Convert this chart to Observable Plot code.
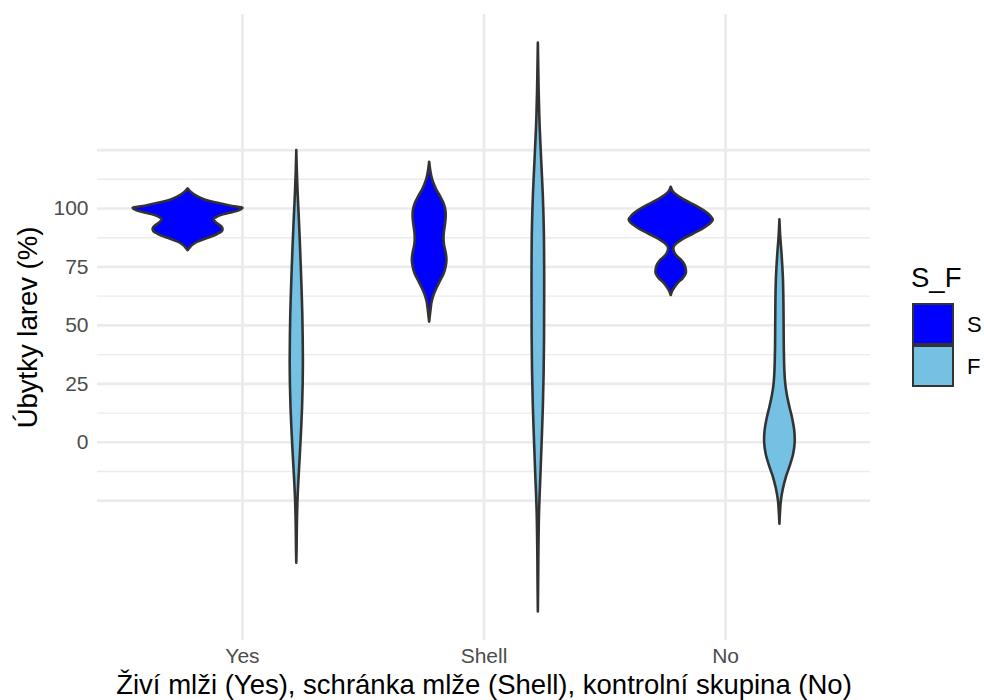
<!DOCTYPE html>
<html>
<head>
<meta charset="utf-8">
<script src="https://cdn.jsdelivr.net/npm/d3@7"></script>
<script src="https://cdn.jsdelivr.net/npm/@observablehq/plot@0.6"></script>
<style>
  body { margin: 0; background: #fff; font-family: "Liberation Sans", Arial, sans-serif; }
  #wrap { position: relative; width: 984px; height: 700px; overflow: hidden; }
  .lg { position: absolute; line-height: 1; color: #000; }
  .key { position: absolute; box-sizing: border-box; border: 2.7px solid #333333; }
</style>
</head>
<body>
<div id="wrap"></div>
<script>
// ---- data ----
const categories = ["Yes", "Shell", "No"];
const groups = ["S", "F"];
const fillColors = ["#0000FF", "#74C1E4"];
const yTicks = [0, 25, 50, 75, 100];
const gridValues = [-25, -12.5, 0, 12.5, 25, 37.5, 50, 62.5, 75, 87.5, 100, 112.5, 125];

// violin profiles: value (y) and half-width (estimated, px-like density units)
const yesS_y = [82, 83, 84, 85, 86, 87, 88, 89, 90, 91, 92, 93, 94, 95.3, 96, 97, 98, 99, 100, 100.5, 101, 102, 103, 104, 105, 106, 107, 108.4];
const yesS_w = [0, 2, 4, 7, 12, 18, 25, 30, 34, 35, 34, 31, 28, 26, 28, 33, 42, 51, 55, 50, 43, 32, 22, 15, 10, 6, 3, 0];
const yesF_y = [-51.7, -45, -35, -25, -15, -5, 5, 15, 25, 35, 45, 55, 65, 75, 85, 95, 105, 115, 124.8];
const yesF_w = [0, 0.3, 0.6, 1.2, 2.3, 3.6, 4.8, 5.8, 6.4, 6.6, 6.4, 6, 5.3, 4.5, 3.6, 2.6, 1.5, 0.6, 0];
const shellS_y = [51.4, 54, 57, 60, 63, 66, 69, 72, 75, 78, 81, 84, 87, 90, 93, 96, 99, 102, 105, 108, 111, 114, 117, 119.8];
const shellS_w = [0, 0.7, 1.5, 2.5, 4.5, 7.5, 11, 14.5, 16.5, 17.3, 16.5, 15, 14.4, 14.8, 15.8, 16.5, 16.3, 14.5, 11, 7, 4, 2, 0.8, 0];
const shellF_y = [-72.6, -60, -45, -30, -15, 0, 15, 30, 45, 60, 75, 90, 105, 120, 135, 150, 160, 170.8];
const shellF_w = [0, 0.3, 0.6, 1.2, 2.5, 3.8, 5, 5.8, 6.2, 6.3, 6.3, 6, 5, 3.4, 1.8, 0.8, 0.4, 0];
const noS_y = [62.8, 64.5, 66, 68, 70, 72, 74, 76, 78, 80, 82, 83.5, 85, 87, 89, 91, 93, 95, 97, 99, 101, 103, 105, 106.5, 107.5, 109.1];
const noS_w = [0, 1.5, 3.5, 7, 12, 15, 15, 13.5, 10, 5, 2.8, 3, 6, 13, 22, 31, 38, 42, 39, 33, 25, 16, 8, 3.5, 1.5, 0];
const noF_y = [-35, -30, -25, -20, -15, -10, -5, 0, 5, 10, 15, 20, 25, 30, 40, 50, 60, 70, 80, 88, 95.2];
const noF_w = [0, 0.6, 1.5, 3.5, 6.5, 10.5, 13.8, 15.3, 14.8, 12.8, 10, 7.5, 5.8, 5, 4.4, 4.2, 4, 3.5, 2.2, 0.8, 0];

const xTitle = "Živí mlži (Yes), schránka mlže (Shell), kontrolní skupina (No)";
const yTitle = "Úbytky larev (%)";
const legendTitle = "S_F";

// ---- build table ----
const violins = [
  {cat: "Yes", group: "S", ys: yesS_y, ws: yesS_w},
  {cat: "Yes", group: "F", ys: yesF_y, ws: yesF_w},
  {cat: "Shell", group: "S", ys: shellS_y, ws: shellS_w},
  {cat: "Shell", group: "F", ys: shellF_y, ws: shellF_w},
  {cat: "No", group: "S", ys: noS_y, ws: noS_w},
  {cat: "No", group: "F", ys: noF_y, ws: noF_w}
];
const dodge = 0.225;
const widthScale = 1 / 241.6;
const rows = [];
violins.forEach((v, k) => {
  const center = categories.indexOf(v.cat) + 1 + (v.group === "S" ? -dodge : dodge);
  v.ys.forEach((y, i) => rows.push({id: k, group: v.group, y, x1: center - v.ws[i] * widthScale, x2: center + v.ws[i] * widthScale}));
});

const chart = Plot.plot({
  width: 984,
  height: 700,
  marginTop: 14,
  marginBottom: 60,
  marginLeft: 97,
  marginRight: 114,
  style: {fontFamily: "Liberation Sans, Arial, sans-serif", background: "#fff"},
  x: {domain: [0.4, 3.6], axis: null},
  y: {domain: [-84.8, 183], axis: null},
  color: {domain: groups, range: fillColors},
  marks: [
    Plot.ruleY(gridValues.filter(d => d % 25 !== 0), {stroke: "#ebebeb", strokeWidth: 1.35}),
    Plot.ruleY(gridValues.filter(d => d % 25 === 0), {stroke: "#ebebeb", strokeWidth: 2.7}),
    Plot.ruleX([1, 2, 3], {stroke: "#ebebeb", strokeWidth: 2.7}),
    Plot.areaX(rows, {y: "y", x1: "x1", x2: "x2", z: "id", fill: "group", stroke: "#333333", strokeWidth: 2.6, strokeLinejoin: "round", curve: "catmull-rom"}),
    Plot.axisY(yTicks, {tickSize: 0, tickPadding: 9, fontSize: 21, fill: "#4d4d4d", label: null}),
    Plot.axisX([1, 2, 3], {tickSize: 0, tickPadding: 8, fontSize: 21, fill: "#4d4d4d", tickFormat: d => categories[d - 1], label: null}),
    Plot.text([xTitle], {frameAnchor: "bottom", lineAnchor: "bottom", textAnchor: "middle", dy: 53, fontSize: 27.5, fill: "#000"}),
    Plot.text([yTitle], {frameAnchor: "left", lineAnchor: "middle", textAnchor: "middle", dx: -69, rotate: -90, fontSize: 27.5, fill: "#000"})
  ]
});
const wrap = document.getElementById("wrap");
wrap.appendChild(chart);

// legend
const lt = document.createElement("div");
lt.className = "lg"; lt.textContent = legendTitle;
Object.assign(lt.style, {left: "911px", top: "264px", fontSize: "27.5px"});
wrap.appendChild(lt);
groups.forEach((g, i) => {
  const key = document.createElement("div");
  key.className = "key";
  Object.assign(key.style, {left: "912px", top: (303 + i * 42) + "px", width: "42px", height: "42px", background: fillColors[i]});
  wrap.appendChild(key);
  const lab = document.createElement("div");
  lab.className = "lg"; lab.textContent = g;
  Object.assign(lab.style, {left: "967px", top: (314 + i * 42) + "px", fontSize: "22px", color: "#000"});
  wrap.appendChild(lab);
});
</script>
</body>
</html>
